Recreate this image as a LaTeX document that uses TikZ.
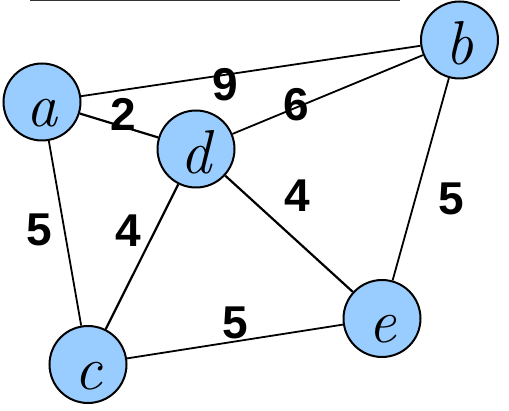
\documentclass[tikz,border=0pt]{standalone}
\usepackage{fontspec}
\newfontfamily\labfont{Liberation Sans}
\definecolor{nodeblue}{HTML}{99CCFF}
\begin{document}
\begin{tikzpicture}[x=1pt,y=1pt,
  vtx/.style={circle,draw=black,line width=2pt,fill=nodeblue,minimum size=77pt,inner sep=0pt,text height=49pt,text depth=0pt,font=\itshape\fontsize{62}{62}\selectfont},
  wlab/.style={font=\labfont\bfseries\fontsize{46}{46}\selectfont,inner sep=0pt},
  edge/.style={line width=2.2pt},
  thinedge/.style={line width=1.8pt}]
\useasboundingbox (0,0) rectangle (509,410);
\coordinate (t1) at (30,409.3);
\coordinate (t2) at (400,409.3);
\draw[line width=1.3pt,black!80] (t1) -- (t2);
\node[vtx] (a) at (42,308) {a};
\node[vtx] (b) at (459.5,370) {b};
\node[vtx] (c) at (88,45.5) {c};
\node[vtx] (d) at (196,261) {d};
\node[vtx] (e) at (382,91.5) {e};
\draw[thinedge] (a) -- (b);
\draw[edge] (a) -- (d);
\draw[thinedge] (a) -- (c);
\draw[thinedge] (d) -- (b);
\draw[edge] (d) -- (c);
\draw[edge] (d) -- (e);
\draw[thinedge] (b) -- (e);
\draw[thinedge] (c) -- (e);
\node[wlab] (l9) at (225,325.3) {9};
\node[wlab] (l2) at (123.5,296) {2};
\node[wlab] (l6) at (296.5,305.3) {6};
\node[wlab] (l4a) at (297.5,214) {4};
\node[wlab] (l5a) at (451.5,211) {5};
\node[wlab] (l5b) at (39,180.5) {5};
\node[wlab] (l4b) at (128,179.5) {4};
\node[wlab] (l5c) at (235,87.5) {5};
\end{tikzpicture}
\end{document}
